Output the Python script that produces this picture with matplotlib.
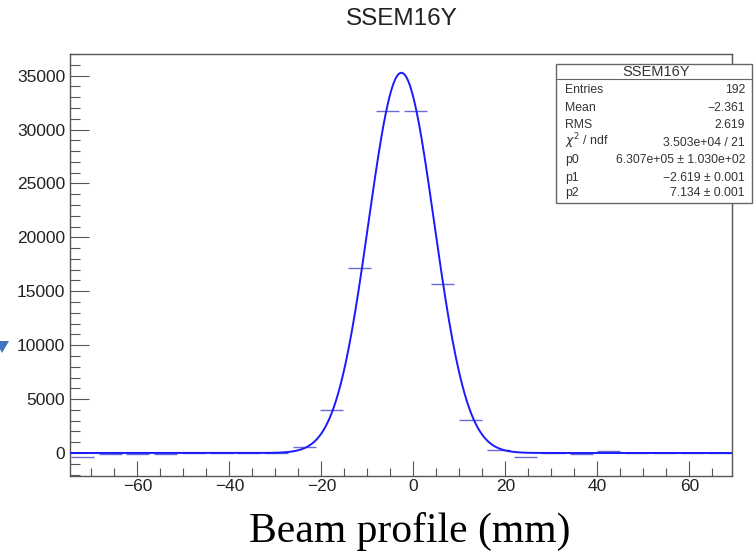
import numpy as np
import matplotlib
matplotlib.use("Agg")
import matplotlib.pyplot as plt
from matplotlib.ticker import MultipleLocator
from matplotlib.patches import Polygon, Rectangle

# histogram bins
bin_x = [-71.9, -65.9, -59.9, -53.8, -47.8, -41.8, -35.8, -29.8, -23.7,
         -17.7, -11.7, -5.6, 0.4, 6.4, 12.4, 18.4, 24.4, 30.4, 36.5,
         42.5, 48.5, 54.5, 60.6, 66.6]
bin_y = [-370, -90, -90, -90, 0, 0, 0, 0, 520,
         4000, 17200, 31700, 31700, 15700, 3100, 280, -340, 0, -100,
         210, 0, 0, 0, 0]

# fit parameters from the stats box (normalised gaussian)
p0, p1, p2 = 6.307e5, -2.619, 7.134

stat_labels = ["Entries", "Mean", "RMS", r"$\chi^2$ / ndf", "p0", "p1", "p2"]
stat_values = ["192", "\u22122.361", "2.619", "3.503e+04 / 21",
               "6.307e+05 \u00b1 1.030e+02", "\u22122.619 \u00b1 0.001",
               "7.134 \u00b1 0.001"]

W, H = 754, 555
fig = plt.figure(figsize=(W / 100, H / 100), dpi=100)
plt.rcParams['font.family'] = ['Liberation Sans', 'DejaVu Sans']

def fx(px):
    return px / W

def fy(py):
    return 1 - py / H

ax = fig.add_axes([fx(70), fy(476), (732 - 70) / W, (476 - 54) / H])
ax.set_xlim(-74.65, 69.26)
ax.set_ylim(-2135, 37010)

ax.errorbar(bin_x, bin_y, xerr=2.5, fmt='none', ecolor='#6a6ad8',
            elinewidth=1.0, capsize=0, zorder=2)

xs = np.linspace(-74.65, 69.26, 600)
ys = p0 / (np.sqrt(2 * np.pi) * p2) * np.exp(-0.5 * ((xs - p1) / p2) ** 2)
ax.plot(xs, ys, color='#1a1aff', lw=1.4, zorder=3)

ax.xaxis.set_major_locator(MultipleLocator(20))
ax.xaxis.set_minor_locator(MultipleLocator(5))
ax.yaxis.set_major_locator(MultipleLocator(5000))
ax.yaxis.set_minor_locator(MultipleLocator(1000))
ax.tick_params(axis='both', which='both', direction='in', top=False,
               right=False, colors='#555555', labelcolor='#222222',
               labelsize=12.5)
ax.tick_params(axis='y', which='major', length=14, width=0.8)
ax.tick_params(axis='y', which='minor', length=7, width=0.8)
ax.tick_params(axis='x', which='major', length=11, width=0.8)
ax.tick_params(axis='x', which='minor', length=6, width=0.8)
ax.tick_params(axis='x', pad=2)
for s in ax.spines.values():
    s.set_color('#555555')
    s.set_linewidth(1.0)

fig.text(fx(402), fy(19), "SSEM16Y", ha='center', va='center',
         fontsize=17.5, color='#222222')
fig.text(fx(410), fy(542), "Beam profile (mm)", ha='center', va='baseline',
         fontsize=30, family=['Liberation Serif', 'DejaVu Serif'],
         color='black')

# stats box
bx0, by0, bx1, by1 = 556, 64, 752, 203
fig.patches.append(Rectangle((fx(bx0), fy(by1)), (bx1 - bx0) / W,
                             (by1 - by0) / H, transform=fig.transFigure,
                             facecolor='white', edgecolor='#666666',
                             lw=1.0, zorder=5))
fig.add_artist(plt.Line2D([fx(bx0), fx(bx1)], [fy(79), fy(79)],
                          color='#666666', lw=0.8, zorder=6))
fig.text(fx(656), fy(71.5), "SSEM16Y", ha='center',
         va='center', fontsize=10.5, color='#333333', zorder=7)
row_y = [89.3, 106.7, 124, 141.7, 159, 176.7, 192.3]
for lab, val, yy in zip(stat_labels, stat_values, row_y):
    fig.text(fx(565), fy(yy + 4), lab, ha='left', va='baseline',
             fontsize=8.8, color='#333333', zorder=7)
    fig.text(fx(745), fy(yy + 4), val, ha='right', va='baseline',
             fontsize=8.8, color='#333333', zorder=7)

# small blue arrow head at the left edge
fig.patches.append(Polygon([[fx(-4), fy(341)], [fx(9), fy(341)],
                            [fx(2), fy(353)]], closed=True,
                           transform=fig.transFigure,
                           facecolor='#3f74c0', edgecolor='none'))

fig.savefig("out.png", dpi=100)
